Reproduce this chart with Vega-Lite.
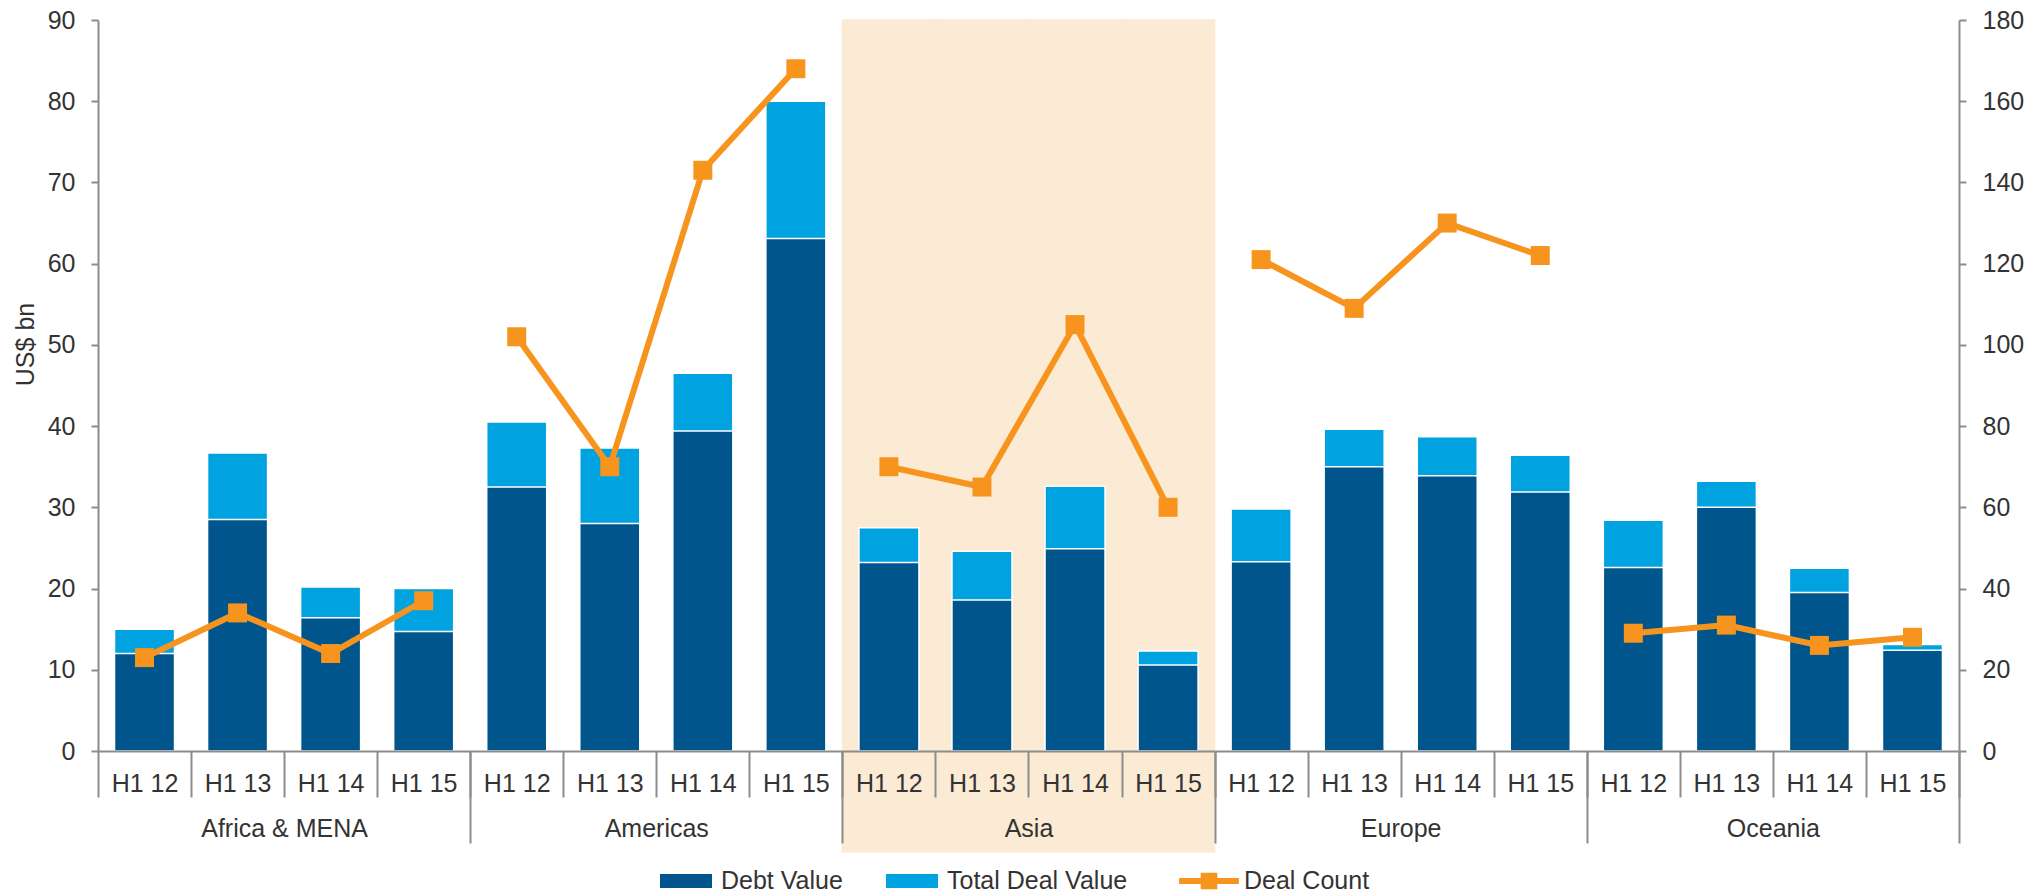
{
  "$schema": "https://vega.github.io/schema/vega-lite/v6.json",
  "width": 1861,
  "height": 731,
  "autosize": {"type": "none"},
  "padding": {"left": 98, "top": 20, "right": 85, "bottom": 145},
  "background": "white",
  "config": {
    "view": {"stroke": null},
    "font": "Liberation Sans",
    "axis": {"labelFont": "Liberation Sans", "titleFont": "Liberation Sans", "grid": false},
    "legend": {"labelFont": "Liberation Sans"}
  },
  "data": {
    "values": [
      {"region": "Africa & MENA", "period": "H1 12", "cat": "Africa & MENA|H1 12", "total": 15.0, "debt": 12.0, "count": 23},
      {"region": "Africa & MENA", "period": "H1 13", "cat": "Africa & MENA|H1 13", "total": 36.7, "debt": 28.5, "count": 34},
      {"region": "Africa & MENA", "period": "H1 14", "cat": "Africa & MENA|H1 14", "total": 20.2, "debt": 16.4, "count": 24},
      {"region": "Africa & MENA", "period": "H1 15", "cat": "Africa & MENA|H1 15", "total": 20.0, "debt": 14.7, "count": 37},
      {"region": "Americas", "period": "H1 12", "cat": "Americas|H1 12", "total": 40.5, "debt": 32.5, "count": 102},
      {"region": "Americas", "period": "H1 13", "cat": "Americas|H1 13", "total": 37.3, "debt": 28.0, "count": 70},
      {"region": "Americas", "period": "H1 14", "cat": "Americas|H1 14", "total": 46.5, "debt": 39.4, "count": 143},
      {"region": "Americas", "period": "H1 15", "cat": "Americas|H1 15", "total": 80.0, "debt": 63.1, "count": 168},
      {"region": "Asia", "period": "H1 12", "cat": "Asia|H1 12", "total": 27.5, "debt": 23.2, "count": 70},
      {"region": "Asia", "period": "H1 13", "cat": "Asia|H1 13", "total": 24.6, "debt": 18.6, "count": 65},
      {"region": "Asia", "period": "H1 14", "cat": "Asia|H1 14", "total": 32.6, "debt": 24.9, "count": 105},
      {"region": "Asia", "period": "H1 15", "cat": "Asia|H1 15", "total": 12.3, "debt": 10.6, "count": 60},
      {"region": "Europe", "period": "H1 12", "cat": "Europe|H1 12", "total": 29.8, "debt": 23.3, "count": 121},
      {"region": "Europe", "period": "H1 13", "cat": "Europe|H1 13", "total": 39.6, "debt": 35.0, "count": 109},
      {"region": "Europe", "period": "H1 14", "cat": "Europe|H1 14", "total": 38.7, "debt": 33.9, "count": 130},
      {"region": "Europe", "period": "H1 15", "cat": "Europe|H1 15", "total": 36.4, "debt": 31.9, "count": 122},
      {"region": "Oceania", "period": "H1 12", "cat": "Oceania|H1 12", "total": 28.4, "debt": 22.6, "count": 29},
      {"region": "Oceania", "period": "H1 13", "cat": "Oceania|H1 13", "total": 33.2, "debt": 30.0, "count": 31},
      {"region": "Oceania", "period": "H1 14", "cat": "Oceania|H1 14", "total": 22.5, "debt": 19.5, "count": 26},
      {"region": "Oceania", "period": "H1 15", "cat": "Oceania|H1 15", "total": 13.1, "debt": 12.4, "count": 28}
    ]
  },
  "layer": [
    {
      "encoding": {
        "x": {
          "field": "cat",
          "type": "nominal",
          "scale": {"paddingInner": 0, "paddingOuter": 0},
          "axis": {
            "orient": "bottom",
            "title": null,
            "labelExpr": "split(datum.label, '|')[1]",
            "labelAngle": 0,
            "tickBand": "extent",
            "tickSize": 46,
            "tickWidth": 2,
            "tickColor": "#8c8c8c",
            "domainColor": "#8c8c8c",
            "domainWidth": 2,
            "labelFontSize": 25,
            "labelColor": "#333333",
            "labelPadding": -26,
            "zindex": 1
          }
        }
      },
      "layer": [
        {
          "transform": [{"filter": "datum.region === 'Asia'"}],
          "mark": {"type": "bar", "color": "#FBEAD4", "stroke": "#FBEAD4", "strokeWidth": 1.5, "width": {"band": 1}, "clip": false},
          "encoding": {
            "y": {"datum": 90, "type": "quantitative", "scale": {"domain": [0, 90], "nice": false}},
            "y2": {"datum": -12.4}
          }
        },
        {
          "mark": {"type": "bar", "width": {"band": 0.645}, "stroke": "white", "strokeWidth": 1.5},
          "encoding": {
            "y": {
              "field": "total",
              "type": "quantitative",
              "scale": {"domain": [0, 90], "nice": false},
              "axis": {
                "orient": "left",
                "values": [0, 10, 20, 30, 40, 50, 60, 70, 80, 90],
                "domainColor": "#8c8c8c",
                "domainWidth": 2,
                "tickColor": "#8c8c8c",
                "tickWidth": 2,
                "tickSize": 7,
                "labelFontSize": 25,
                "labelColor": "#333333",
                "labelPadding": 16,
                "title": "US$ bn",
                "titleFontSize": 25,
                "titleFontWeight": "normal",
                "titleColor": "#333333",
                "titleAngle": -90,
                "titleX": -73,
                "titleY": 324,
                "titleAlign": "center",
                "titleBaseline": "middle"
              }
            },
            "color": {
              "datum": "Total Deal Value",
              "type": "nominal",
              "scale": {
                "domain": ["Debt Value", "Total Deal Value"],
                "range": ["#00568C", "#00A2E0"]
              },
              "legend": {
                "orient": "none",
                "legendX": 562,
                "legendY": 835,
                "direction": "horizontal",
                "title": null,
                "labelFontSize": 25,
                "labelColor": "#333333",
                "labelLimit": 400,
                "labelOffset": 9,
                "columnPadding": 43,
                "symbolSize": 2704,
                "symbolType": "M-1,-0.27H1V0.27H-1Z",
                "symbolStrokeWidth": 0,
                "symbolOpacity": 1
              }
            }
          }
        },
        {
          "mark": {"type": "bar", "width": {"band": 0.645}, "stroke": "white", "strokeWidth": 1.5},
          "encoding": {
            "y": {"field": "debt", "type": "quantitative", "scale": {"domain": [0, 90], "nice": false}},
            "color": {"datum": "Debt Value", "type": "nominal"}
          }
        }
      ]
    },
    {
      "mark": {
        "type": "line",
        "color": "#F7941D",
        "strokeWidth": 6,
        "point": {"shape": "square", "size": 360, "filled": true, "color": "#F7941D", "opacity": 1}
      },
      "encoding": {
        "x": {
          "field": "cat",
          "type": "nominal",
          "scale": {"paddingInner": 0, "paddingOuter": 0},
          "axis": {
            "orient": "bottom",
            "title": null,
            "domain": false,
            "labelAngle": 0,
            "labelExpr": "test(/H1 13$/, datum.value) ? split(datum.value, '|')[0] : ''",
            "labelOffset": 46.5,
            "tickBand": "extent",
            "tickSize": 92,
            "tickWidth": 2,
            "tickColor": "#8c8c8c",
            "tickOpacity": {"condition": {"test": "test(/H1 15$/, datum.value) || datum.index === 1", "value": 1}, "value": 0},
            "labelFontSize": 25,
            "labelColor": "#333333",
            "labelPadding": -27,
            "zindex": 1
          }
        },
        "y": {
          "field": "count",
          "type": "quantitative",
          "scale": {"domain": [0, 180], "nice": false},
          "axis": {
            "orient": "right",
            "values": [0, 20, 40, 60, 80, 100, 120, 140, 160, 180],
            "title": null,
            "domainColor": "#8c8c8c",
            "domainWidth": 2,
            "tickColor": "#8c8c8c",
            "tickWidth": 2,
            "tickSize": 7,
            "labelFontSize": 25,
            "labelColor": "#333333",
            "labelPadding": 16
          }
        },
        "opacity": {
          "datum": "Deal Count",
          "type": "ordinal",
          "scale": {"domain": ["Deal Count"], "range": [1]},
          "legend": {
            "orient": "none",
            "legendX": 1085,
            "legendY": 835,
            "direction": "horizontal",
            "title": null,
            "labelFontSize": 25,
            "labelColor": "#333333",
            "labelLimit": 400,
            "labelOffset": 9,
            "symbolSize": 2704,
            "symbolType": "M-1.15,-0.12H1.15V0.12H-1.15Z M-0.32,-0.32H0.32V0.32H-0.32Z",
            "symbolFillColor": "#F7941D",
            "symbolStrokeColor": "#F7941D",
            "symbolStrokeWidth": 0,
            "symbolOpacity": 1
          }
        },
        "detail": {"field": "region"}
      }
    }
  ],
  "resolve": {"scale": {"y": "independent"}, "axis": {"x": "independent"}}
}
